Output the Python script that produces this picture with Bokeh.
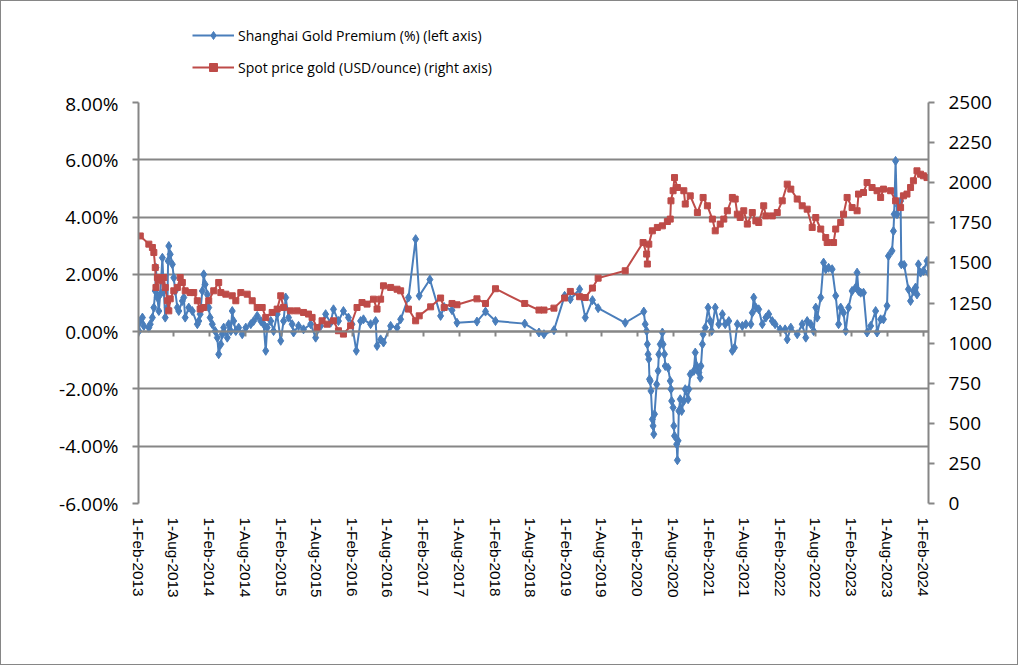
import math
from datetime import datetime, timedelta

from bokeh.plotting import figure
from bokeh.layouts import column
from bokeh.models import (Range1d, LinearAxis, DatetimeAxis, FixedTicker,
                          PrintfTickFormatter, CustomJSTickFormatter, Legend, LegendItem)
from bokeh.embed import file_html
from bokeh.resources import INLINE

# dates are decimal years
premium_year = [
    2013.09, 2013.11, 2013.14, 2013.16, 2013.23, 2013.25, 2013.28, 2013.30, 2013.32, 2013.33,
    2013.35, 2013.37, 2013.39, 2013.42, 2013.44, 2013.46, 2013.49, 2013.50, 2013.51, 2013.53,
    2013.56, 2013.58, 2013.60, 2013.63, 2013.65, 2013.70, 2013.72, 2013.74, 2013.79, 2013.84,
    2013.91, 2013.93, 2013.95, 2013.98, 2014.00, 2014.02, 2014.05, 2014.07, 2014.09, 2014.12,
    2014.16, 2014.19, 2014.21, 2014.24, 2014.26, 2014.28, 2014.33, 2014.35, 2014.38, 2014.40,
    2014.42, 2014.45, 2014.49, 2014.54, 2014.59, 2014.66, 2014.70, 2014.75, 2014.80, 2014.84,
    2014.87, 2014.89, 2014.94, 2014.98, 2015.03, 2015.08, 2015.12, 2015.15, 2015.19, 2015.24,
    2015.26, 2015.33, 2015.40, 2015.50, 2015.57, 2015.64, 2015.71, 2015.78, 2015.82, 2015.89,
    2015.96, 2016.03, 2016.08, 2016.14, 2016.20, 2016.24, 2016.34, 2016.41, 2016.43, 2016.48,
    2016.52, 2016.62, 2016.71, 2016.76, 2016.87, 2016.97, 2017.02, 2017.17, 2017.32, 2017.37,
    2017.48, 2017.55, 2017.83, 2017.95, 2018.09, 2018.50, 2018.70, 2018.77, 2018.91, 2019.06,
    2019.14, 2019.27, 2019.35, 2019.45, 2019.53, 2019.91,
    2020.17, 2020.19, 2020.21, 2020.22, 2020.23, 2020.24, 2020.25, 2020.26, 2020.27, 2020.29,
    2020.30, 2020.31, 2020.32, 2020.35, 2020.37, 2020.38, 2020.40, 2020.43, 2020.44, 2020.46,
    2020.47, 2020.51, 2020.54, 2020.55, 2020.56, 2020.58, 2020.59, 2020.60, 2020.63, 2020.64,
    2020.65, 2020.66, 2020.68, 2020.70, 2020.73, 2020.75, 2020.79, 2020.80, 2020.82, 2020.87,
    2020.89, 2020.91, 2020.94, 2020.96, 2020.97, 2020.99, 2021.00, 2021.03, 2021.07, 2021.10,
    2021.12,
    2021.17, 2021.22, 2021.27, 2021.31, 2021.36, 2021.41, 2021.44, 2021.48, 2021.55, 2021.60,
    2021.67, 2021.69, 2021.71, 2021.74, 2021.78, 2021.83, 2021.88, 2021.92, 2021.97, 2022.01,
    2022.08, 2022.15, 2022.18, 2022.23, 2022.32, 2022.39, 2022.44, 2022.46, 2022.51, 2022.55,
    2022.58, 2022.60, 2022.65, 2022.69, 2022.72, 2022.76, 2022.81, 2022.86, 2022.90, 2022.93,
    2022.97, 2023.00, 2023.04, 2023.09, 2023.14, 2023.16, 2023.18, 2023.21, 2023.25, 2023.30,
    2023.35, 2023.42, 2023.44, 2023.49, 2023.53, 2023.58, 2023.60, 2023.65, 2023.67, 2023.68,
    2023.70, 2023.72, 2023.74, 2023.77, 2023.78, 2023.82, 2023.88, 2023.91, 2023.95, 2023.98,
    2024.00, 2024.02, 2024.05, 2024.09, 2024.14, 2024.16,
]
premium_pct = [
    0.02, 0.37, 0.49, 0.20, 0.14, 0.26, 0.49, 0.84, 1.42, 2.23,
    1.19, 0.72, 1.30, 2.58, 1.42, 0.49, 0.84, 2.47, 2.99, 2.70,
    2.35, 1.88, 1.42, 0.84, 0.72, 1.07, 1.19, 0.49, 0.84, 0.72,
    0.26, 0.37, 0.61, 1.42, 2.00, 1.65, 1.30, 0.84, 0.49, 0.26,
    0.02, -0.21, -0.79, -0.44, -0.09, 0.14, -0.21, 0.26, 0.02, 0.72,
    0.37, 0.02, 0.14, -0.09, 0.14, 0.26, 0.37, 0.55, 0.37, 0.26,
    -0.67, 0.14, 0.37, 0.02, 0.61, -0.32, 0.37, 1.19, 0.49, 0.26,
    -0.03, 0.20, 0.08, 0.26, -0.21, 0.20, 0.61, 0.31, 0.78, 0.37,
    0.72, 0.49, 0.26, -0.67, 0.37, 0.43, 0.26, 0.37, -0.50, -0.27,
    -0.38, 0.20, 0.14, 0.43, 1.19, 3.23, 1.25, 1.82, 0.55, 0.86,
    0.75, 0.31, 0.35, 0.70, 0.37, 0.28, -0.03, -0.09, 0.05, 1.25,
    1.13, 1.48, 0.49, 1.10, 0.82, 0.31,
    0.70, 0.26, 0.02, -0.44, -0.79, -0.96, -1.66, -1.72, -2.07, -3.06,
    -3.29, -3.58, -2.88, -1.84, -1.37, -0.79, -0.44, -0.03, -0.44, -0.79,
    -1.20, -1.26, -1.72, -2.01, -2.42, -2.65, -3.29, -3.64, -3.93, -4.49,
    -3.81, -2.77, -2.36, -2.77, -2.42, -2.01, -2.36, -2.01, -1.49, -1.37,
    -0.73, -1.20, -1.43, -1.61, -1.20, -0.44, -0.09, 0.14, 0.84, 0.37,
    0.02,
    0.84, 0.26, 0.61, 0.26, 0.37, -0.67, -0.56, 0.26, 0.20, 0.26,
    0.26, 0.66, 1.19, 0.84, 0.78, 0.26, 0.49, 0.61, 0.37, 0.26,
    0.08, 0.08, -0.27, 0.14, -0.09, 0.26, -0.21, 0.37, 0.26, 0.02,
    0.84, 0.49, 1.19, 2.41, 2.18, 2.23, 2.18, 1.25, 0.26, 0.84,
    0.66, 0.02, 0.84, 1.42, 1.54, 2.06, 1.42, 1.36, 1.36, -0.03,
    0.20, 0.72, -0.03, 0.43, 0.43, 0.90, 2.64, 2.82, 3.51, 4.10,
    5.96, 4.10, 4.39, 4.56, 2.35, 2.33, 1.48, 1.07, 1.42, 1.54,
    1.30, 2.35, 2.06, 2.12, 2.47, 2.06,
]

gold_year = [
    2013.11, 2013.23, 2013.28, 2013.30, 2013.32, 2013.33, 2013.35, 2013.39, 2013.44, 2013.46,
    2013.49, 2013.51, 2013.53, 2013.58, 2013.63, 2013.67, 2013.70, 2013.74, 2013.81, 2013.86,
    2013.91, 2013.95, 2014.00, 2014.07, 2014.14, 2014.21, 2014.24, 2014.31, 2014.40, 2014.45,
    2014.52, 2014.61, 2014.68, 2014.75, 2014.82, 2014.87, 2014.96, 2015.03, 2015.08, 2015.12,
    2015.22, 2015.31, 2015.40, 2015.47, 2015.52, 2015.59, 2015.66, 2015.73, 2015.82, 2015.89,
    2015.96, 2016.06, 2016.15, 2016.22, 2016.29, 2016.38, 2016.43, 2016.48, 2016.52, 2016.62,
    2016.71, 2016.76, 2016.87, 2016.97, 2017.02, 2017.18, 2017.32, 2017.37, 2017.48, 2017.55,
    2017.83, 2017.95, 2018.09, 2018.50, 2018.70, 2018.77, 2018.91, 2019.06, 2019.14, 2019.27,
    2019.35, 2019.45, 2019.53, 2019.91, 2020.16, 2020.21, 2020.22, 2020.24, 2020.29, 2020.36,
    2020.43, 2020.50, 2020.54, 2020.55, 2020.58, 2020.60, 2020.64, 2020.73, 2020.75, 2020.82,
    2020.92, 2021.00, 2021.06, 2021.13, 2021.17, 2021.24, 2021.29, 2021.34, 2021.41, 2021.45,
    2021.48, 2021.52, 2021.57, 2021.62, 2021.69, 2021.74, 2021.78, 2021.85, 2021.88, 2021.97,
    2022.04, 2022.11, 2022.18, 2022.23, 2022.32, 2022.39, 2022.46, 2022.53, 2022.58, 2022.65,
    2022.72, 2022.74, 2022.83, 2022.86, 2022.93, 2022.97, 2023.02, 2023.09, 2023.16, 2023.18,
    2023.25, 2023.30, 2023.37, 2023.44, 2023.49, 2023.53, 2023.63, 2023.70, 2023.77, 2023.81,
    2023.86, 2023.91, 2023.95, 2024.00, 2024.05, 2024.09, 2024.14,
]
gold_usd = [
    1668, 1617, 1596, 1565, 1471, 1347, 1409, 1388, 1409, 1347,
    1264, 1201, 1276, 1326, 1347, 1409, 1378, 1326, 1315, 1315,
    1264, 1212, 1222, 1264, 1326, 1378, 1315, 1305, 1295, 1264,
    1315, 1305, 1264, 1222, 1222, 1160, 1191, 1212, 1295, 1222,
    1201, 1201, 1191, 1181, 1160, 1097, 1139, 1118, 1139, 1077,
    1056, 1108, 1222, 1253, 1243, 1274, 1212, 1274, 1357, 1347,
    1336, 1326, 1212, 1139, 1170, 1226, 1281, 1222, 1247, 1239,
    1276, 1247, 1339, 1247, 1206, 1206, 1218, 1281, 1322, 1289,
    1284, 1343, 1405, 1451, 1627, 1555, 1493, 1617, 1700, 1721,
    1731, 1758, 1773, 1887, 1950, 2032, 1970, 1950, 1867, 1918,
    1814, 1908, 1856, 1773, 1700, 1742, 1773, 1825, 1908, 1898,
    1804, 1783, 1825, 1742, 1814, 1762, 1752, 1856, 1793, 1793,
    1814, 1887, 1991, 1960, 1898, 1856, 1835, 1721, 1783, 1711,
    1658, 1627, 1627, 1711, 1752, 1804, 1908, 1845, 1825, 1929,
    1939, 2001, 1970, 1950, 1908, 1960, 1950, 1887, 1845, 1918,
    1929, 1970, 2012, 2074, 2053, 2043, 2032,
]

left_ticks = [-6, -4, -2, 0, 2, 4, 6, 8]
right_ticks = [0, 250, 500, 750, 1000, 1250, 1500, 1750, 2000, 2250, 2500]
tick_dates = [datetime(y, m, 1) for y in range(2013, 2025) for m in (2, 8)][:-1]
tick_labels = [f"{d.day}-{d.strftime('%b-%Y')}" for d in tick_dates]

BLUE = "#4A7EBB"
RED = "#BE4B48"
GREY = "#868686"
EPOCH = datetime(1970, 1, 1)


def to_date(y):
    yr = int(y)
    start = datetime(yr, 1, 1)
    ndays = (datetime(yr + 1, 1, 1) - start).days
    return start + timedelta(days=(y - yr) * ndays)


def to_ms(d):
    return int((d - EPOCH).total_seconds() * 1000)


premium_dates = [to_date(y) for y in premium_year]
gold_dates = [to_date(y) for y in gold_year]
tick_ms = [to_ms(d) for d in tick_dates]

p = figure(frame_width=790, frame_height=401, x_axis_type="datetime",
           x_range=Range1d(datetime(2013, 2, 1), datetime(2024, 2, 29)),
           y_range=Range1d(-6, 8), output_backend="svg", toolbar_location=None,
           min_border_left=137, min_border_right=89, min_border_top=12, min_border_bottom=161)
p.outline_line_color = None
p.extra_y_ranges = {"right": Range1d(0, 2500)}

# grid
p.xgrid.visible = False
p.ygrid.ticker = FixedTicker(ticks=left_ticks)
p.ygrid.grid_line_color = GREY
p.ygrid.grid_line_width = 2

# left axis
ax = p.yaxis[0]
ax.ticker = FixedTicker(ticks=left_ticks)
ax.formatter = PrintfTickFormatter(format="%.2f%%")
ax.axis_line_color = GREY
ax.axis_line_width = 2
ax.major_tick_line_color = GREY
ax.major_tick_line_width = 2
ax.major_tick_out = 6
ax.major_tick_in = 0
ax.minor_tick_line_color = None
ax.major_label_standoff = 14
ax.major_label_text_font = "Open Sans"
ax.major_label_text_font_size = "19px"
ax.major_label_text_color = "black"

# right axis
rax = LinearAxis(y_range_name="right", ticker=FixedTicker(ticks=right_ticks))
rax.axis_line_color = GREY
rax.axis_line_width = 2
rax.major_tick_line_color = GREY
rax.major_tick_line_width = 2
rax.major_tick_out = 6
rax.major_tick_in = 0
rax.minor_tick_line_color = None
rax.major_label_standoff = 14
rax.major_label_text_font = "Open Sans"
rax.major_label_text_font_size = "19px"
rax.major_label_text_color = "black"
p.add_layout(rax, "right")

# date labels at the bottom
bx = p.xaxis[0]
bx.ticker = FixedTicker(ticks=tick_ms)
bx.major_label_overrides = dict(zip(tick_ms, tick_labels))
bx.axis_line_color = None
bx.major_tick_line_color = None
bx.minor_tick_line_color = None
bx.major_tick_out = 0
bx.major_tick_in = 0
bx.major_label_orientation = -math.pi / 2
bx.major_label_standoff = 14
bx.major_label_text_font = "Liberation Sans"
bx.major_label_text_font_size = "15.3px"
bx.major_label_text_color = "black"

# axis line with tick marks crossing at 0%
zx = DatetimeAxis(fixed_location=0, ticker=FixedTicker(ticks=tick_ms),
                  formatter=CustomJSTickFormatter(code="return ''"))
zx.axis_line_color = GREY
zx.axis_line_width = 2
zx.major_tick_line_color = GREY
zx.major_tick_line_width = 2
zx.major_tick_out = 5
zx.major_tick_in = 0
zx.minor_tick_line_color = None
zx.major_label_standoff = 0
p.add_layout(zx, "below")

bl = p.line(premium_dates, premium_pct, line_color=BLUE, line_width=2)
bs = p.scatter(premium_dates, premium_pct, marker="diamond", size=9,
               fill_color=BLUE, line_color=BLUE)
rl = p.line(gold_dates, gold_usd, line_color=RED, line_width=2, y_range_name="right")
rs = p.scatter(gold_dates, gold_usd, marker="square", size=6,
               fill_color=RED, line_color=RED, y_range_name="right")

# legend strip above the chart (own small figure so nothing gets clipped);
# its renderers sit outside the strip's ranges and only feed the legend swatches
lg = figure(frame_width=1016, frame_height=89, min_border=0, x_range=(0, 1), y_range=(0, 1),
            output_backend="svg", toolbar_location=None,
            x_axis_location=None, y_axis_location=None)
lg.outline_line_color = None
lg.grid.visible = False
lb_line = lg.line([5, 6], [5, 6], line_color=BLUE, line_width=2)
lb_pt = lg.scatter([5], [5], marker="diamond", size=7, fill_color=BLUE, line_color=BLUE)
lr_line = lg.line([5, 6], [5, 6], line_color=RED, line_width=2)
lr_pt = lg.scatter([5], [5], marker="square", size=5, fill_color=RED, line_color=RED)

legend = Legend(items=[
    LegendItem(label="Shanghai Gold Premium (%) (left axis)", renderers=[lb_line, lb_pt]),
    LegendItem(label="Spot price gold (USD/ounce) (right axis)", renderers=[lr_line, lr_pt]),
], location=(191, 13))
legend.padding = 0
legend.margin = 0
legend.border_line_color = None
legend.background_fill_alpha = 0
legend.glyph_width = 42
legend.glyph_height = 20
legend.label_height = 20
legend.spacing = 12
legend.label_standoff = 4
legend.label_text_font = "Open Sans"
legend.label_text_font_size = "14px"
legend.label_text_color = "black"
lg.add_layout(legend)

# chart-area border round the whole thing
layout = column(lg, p, spacing=0, styles={"border": "1px solid #868686"})

open("out.html", "w").write(file_html(layout, INLINE))
